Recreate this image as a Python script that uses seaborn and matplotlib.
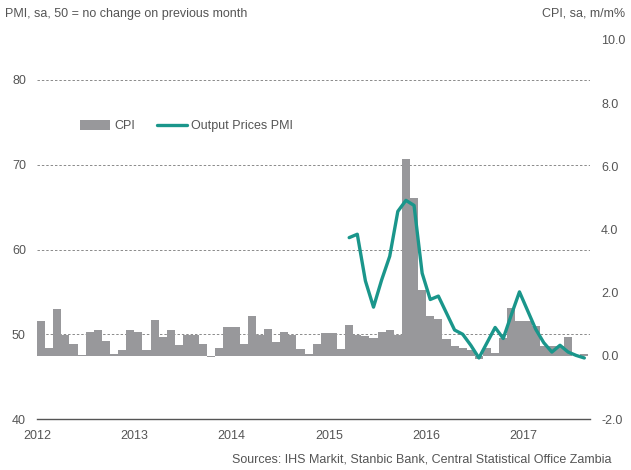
import numpy as np
import pandas as pd
import matplotlib
matplotlib.use("Agg")
import matplotlib.pyplot as plt
import seaborn as sns
from matplotlib.patches import Patch
from matplotlib.lines import Line2D

# ---------------- data ----------------
years = ["2012", "2013", "2014", "2015", "2016", "2017"]

cpi_2012 = [1.09, 0.24, 1.47, 0.65, 0.38, 0.03, 0.74, 0.82, 0.47, 0.06, 0.19, 0.82]
cpi_2013 = [0.77, 0.19, 1.14, 0.60, 0.82, 0.35, 0.65, 0.65, 0.38, -0.05, 0.26, 0.92]
cpi_2014 = [0.90, 0.39, 1.27, 0.65, 0.84, 0.44, 0.76, 0.65, 0.23, 0.06, 0.39, 0.72]
cpi_2015 = [0.71, 0.21, 0.98, 0.65, 0.64, 0.57, 0.76, 0.81, 0.67, 6.23, 5.00, 2.08]
cpi_2016 = [1.26, 1.18, 0.52, 0.30, 0.25, 0.18, -0.10, 0.25, 0.10, 0.55, 1.53, 1.10]
cpi_2017 = [1.10, 0.95, 0.32, 0.30, 0.30, 0.60, 0.00, 0.06]

pmi_2015 = [61.4, 61.8, 56.3, 53.2, 56.4, 59.2, 64.5, 65.8, 65.2, 57.2]   # Mar-Dec 2015
pmi_2016 = [54.1, 54.5, 52.5, 50.5, 50.0, 48.7, 47.2, 49.0, 50.8, 49.5, 52.3, 55.0]
pmi_2017 = [52.8, 50.6, 49.0, 47.9, 48.7, 47.9, 47.5, 47.2]

cpi = cpi_2012 + cpi_2013 + cpi_2014 + cpi_2015 + cpi_2016 + cpi_2017
n = len(cpi)
pmi = [np.nan] * (n - len(pmi_2015) - len(pmi_2016) - len(pmi_2017)) + pmi_2015 + pmi_2016 + pmi_2017

df = pd.DataFrame({"pos": np.arange(n), "cpi": cpi, "pmi": pmi})

# ---------------- style ----------------
sns.set_style("white")
plt.rcParams["font.family"] = ["Liberation Sans", "DejaVu Sans"]
TXT = "#555555"
BAR = "#98989b"
TEAL = "#1a968b"
FS = 9

fig = plt.figure(figsize=(6.31, 4.70), dpi=100)
W, H = 631, 470
L, R, T, B = 37, 590, 40, 419
XMAX = n - 0.3
ax1 = fig.add_axes([L / W, 1 - B / H, (R - L) / W, (B - T) / H])
ax1.set_ylim(40, 40 + (B - T) / 8.475)

# grid (dashed) on left axis
for gy in [50, 60, 70, 80]:
    ax1.axhline(gy, color="#8a8a8a", lw=0.7, ls=(0, (2.5, 2)), zorder=0)

ax2 = ax1.twinx()
sns.barplot(data=df, x="pos", y="cpi", ax=ax2, color=BAR, saturation=1,
            width=1.0, linewidth=0, errorbar=None)
ax2.set_ylim(-2, 10)

ax3 = ax1.twinx()
sns.lineplot(data=df, x="pos", y="pmi", ax=ax3, color=TEAL, lw=2.4)
ax3.set_ylim(ax1.get_ylim())
ax3.set_yticks([])
ax3.set_ylabel("")
ax3.set_xlabel("")

for a in (ax1, ax2, ax3):
    for s in a.spines.values():
        s.set_visible(False)
    a.set_xlim(-0.5, XMAX)
ax1.spines["bottom"].set_visible(True)
ax1.spines["bottom"].set_color("#555555")
ax1.spines["bottom"].set_linewidth(1.0)

# left axis
ax1.set_yticks([40, 50, 60, 70, 80])
ax1.set_yticklabels(["40", "50", "60", "70", "80"])
ax1.tick_params(axis="y", length=0, pad=8, labelsize=FS, labelcolor=TXT)
# right axis
rt = [-2, 0, 2, 4, 6, 8, 10]
ax2.set_yticks(rt)
ax2.set_yticklabels([f"{v:.1f}" for v in rt])
ax2.tick_params(axis="y", length=0, pad=8, labelsize=FS, labelcolor=TXT)
ax2.set_ylabel("")
ax2.set_xlabel("")

# x axis
xt = [12 * i - 0.5 for i in range(len(years))]
for a in (ax2, ax3):
    a.tick_params(axis="x", which="both", bottom=False, labelbottom=False, top=False, labeltop=False)
ax1.set_xticks(xt)
ax1.set_xticklabels(years)
ax1.tick_params(axis="x", length=4, width=1, color="#555555", direction="out",
                pad=4, labelsize=FS, labelcolor=TXT)
ax1.set_xlim(-0.5, XMAX)

# legend
handles = [Patch(facecolor=BAR, edgecolor="none"),
           Line2D([0], [0], color=TEAL, lw=2.4)]
leg = ax3.legend(handles, ["CPI", "Output Prices PMI"], loc="center left",
                 bbox_to_anchor=(0.058, 0.773), ncol=2, frameon=False,
                 fontsize=FS, handlelength=2.4, handleheight=0.8,
                 columnspacing=1.8, handletextpad=0.3)
for t in leg.get_texts():
    t.set_color(TXT)

fig.text(5 / W, 1 - 14 / H, "PMI, sa, 50 = no change on previous month",
         ha="left", va="center", fontsize=FS, color=TXT)
fig.text(625 / W, 1 - 14 / H, "CPI, sa, m/m%", ha="right", va="center",
         fontsize=FS, color=TXT)
fig.text(611 / W, 1 - 459 / H,
         "Sources: IHS Markit, Stanbic Bank, Central Statistical Office Zambia",
         ha="right", va="center", fontsize=FS, color=TXT)

fig.savefig("out.png", dpi=100)
